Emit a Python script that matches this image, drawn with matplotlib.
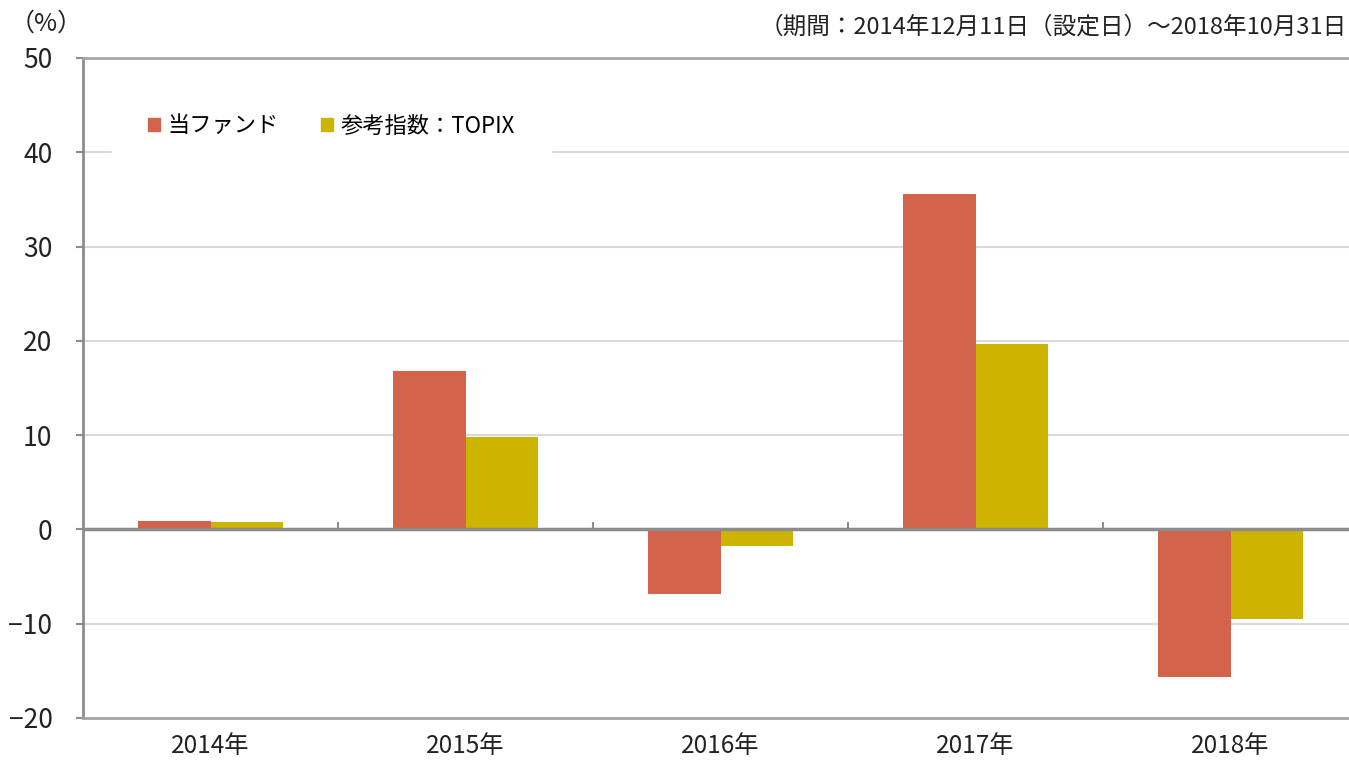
import matplotlib
matplotlib.use("Agg")
import matplotlib.pyplot as plt
import numpy as np
from matplotlib.patches import Patch

plt.rcParams['font.family'] = ['Noto Sans CJK JP', 'DejaVu Sans']

# data
years = ['2014年', '2015年', '2016年', '2017年', '2018年']
fund = [0.85, 16.8, -6.9, 35.6, -15.7]
topix = [0.75, 9.85, -1.8, 19.7, -9.5]
series_names = ['当ファンド', '参考指数：TOPIX']
yticks = [-20, -10, 0, 10, 20, 30, 40, 50]

fund_color = '#D2644B'
topix_color = '#CDB400'
grid_color = '#D9D9D9'
axis_color = '#8C8C8C'

fig = plt.figure(figsize=(13.49, 7.62), dpi=100)
ax = fig.add_axes([83 / 1349, 1 - 718 / 762, 1 - 83 / 1349, (718 - 58) / 762])

x = np.arange(len(years))
w = 0.286
ax.bar(x - w / 2, fund, width=w, color=fund_color, zorder=3)
ax.bar(x + w / 2, topix, width=w, color=topix_color, zorder=3)

ax.set_ylim(-20, 50)
ax.set_xlim(-0.5, len(years) - 0.5 - 9 / 255)
ax.set_yticks(yticks)
ax.set_yticklabels([str(v) if v >= 0 else '−' + str(-v) for v in yticks])
ax.yaxis.grid(True, color=grid_color, linewidth=1.5, zorder=0)
ax.set_axisbelow(True)

# zero line with small ticks between categories
ax.axhline(0, color=axis_color, linewidth=2.5, zorder=4)
bounds = x[1:] - 0.5
ax.vlines(bounds, 0, 0.8, color=axis_color, linewidth=1.5, zorder=4)

ax.set_xticks(x)
ax.set_xticklabels(years)
ax.tick_params(axis='x', length=0, pad=11, labelsize=17.5, labelcolor='#222222')
ax.tick_params(axis='y', length=5, width=1.5, color=axis_color, pad=17,
               labelsize=19, labelcolor='#222222')

ax.spines['right'].set_visible(False)
ax.spines['left'].set_color(axis_color)
ax.spines['left'].set_linewidth(2)
ax.spines['top'].set_color('#A6A6A6')
ax.spines['top'].set_linewidth(2)
ax.spines['bottom'].set_color('#A6A6A6')
ax.spines['bottom'].set_linewidth(2)

handles = [Patch(color=fund_color), Patch(color=topix_color)]
leg = ax.legend(handles, series_names, ncol=2, loc='center left',
                bbox_to_anchor=((112 - 83) / 1266, (718 - 126) / 660),
                frameon=True, fancybox=False,
                framealpha=1, edgecolor='white', fontsize=16,
                handlelength=0.55, handleheight=0.55, handletextpad=0.35,
                columnspacing=1.9, borderpad=1.6, borderaxespad=0)
leg.set_zorder(5)

fig.text(10 / 1349, 1 - 24 / 762, '（%）', fontsize=18, va='center', ha='left', color='#222222')
fig.text(1347 / 1349, 1 - 27 / 762, '（期間：2014年12月11日（設定日）～2018年10月31日',
         fontsize=17, va='center', ha='right', color='#222222')

fig.savefig('out.png', dpi=100)
